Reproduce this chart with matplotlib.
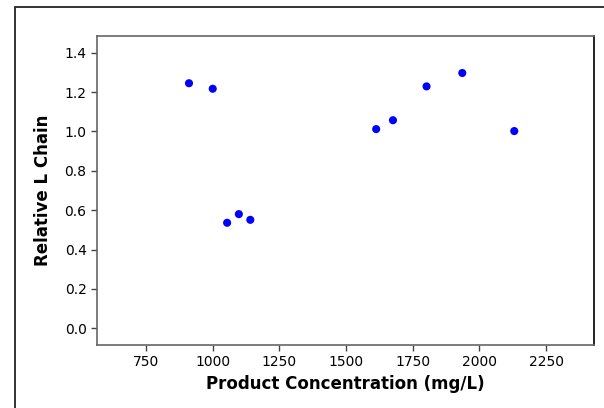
import matplotlib.pyplot as plt
from matplotlib.patches import Rectangle

# product concentration (mg/L) vs relative L chain
conc = [911, 1000, 1054, 1098, 1141, 1613, 1676, 1802, 1936, 2131]
rel_l = [1.245, 1.217, 0.536, 0.580, 0.551, 1.012, 1.057, 1.229, 1.297, 1.002]
xticks = [750, 1000, 1250, 1500, 1750, 2000, 2250]
yticks = [0.0, 0.2, 0.4, 0.6, 0.8, 1.0, 1.2, 1.4]

fig = plt.figure(figsize=(6.04, 4.08), dpi=100)
W, H = 604, 408
ax = fig.add_axes([97 / W, 1 - 345 / H, (594 - 97) / W, (345 - 36) / H])

ax.scatter(conc, rel_l, s=34, color='#0000ff', edgecolors='none', zorder=3)

ax.set_xlim(566, 2430)
ax.set_ylim(-0.085, 1.485)
ax.set_xticks(xticks)
ax.set_yticks(yticks)
ax.set_yticklabels(['%.1f' % v for v in yticks])
ax.tick_params(labelsize=10, length=4, color='#444444', width=1)

for s in ax.spines.values():
    s.set_color('#666666')
    s.set_linewidth(1.2)
ax.spines['right'].set_color('black')

ax.set_xlabel('Product Concentration (mg/L)', fontsize=12, fontweight='bold', labelpad=4)
ax.set_ylabel('Relative L Chain', fontsize=12, fontweight='bold', labelpad=9)

# outer frame around the figure (cut off on right and bottom)
fig.patches.append(Rectangle((15 / W, -0.1), 1.2, 1 - 7 / H + 0.1,
                             transform=fig.transFigure, fill=False,
                             edgecolor='#333333', linewidth=1.4))

fig.savefig('out.png', dpi=100)
